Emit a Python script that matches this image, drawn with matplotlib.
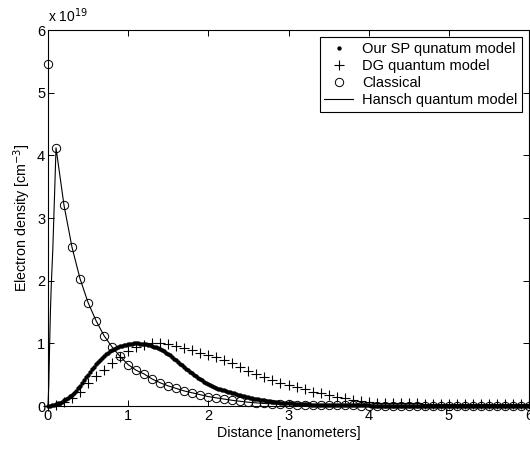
import numpy as np
import matplotlib
matplotlib.use("Agg")
import matplotlib.pyplot as plt

plt.rcParams['font.family'] = ['Liberation Sans', 'DejaVu Sans']

SCALE_EXP = 19  # values below are in units of 1e19 cm^-3

# Our SP quantum model (dots), x step 0.025 nm
sp_x = np.round(np.arange(0, 6.0001, 0.025), 3)
sp_y = [
    0.000, 0.005, 0.012, 0.020, 0.030, 0.042, 0.055, 0.071, 0.090, 0.110,
    0.132, 0.155, 0.180, 0.212, 0.245, 0.282, 0.320, 0.365, 0.410, 0.455,
    0.500, 0.543, 0.587, 0.630, 0.670, 0.705, 0.738, 0.770, 0.800, 0.825,
    0.848, 0.870, 0.890, 0.906, 0.922, 0.936, 0.950, 0.961, 0.972, 0.981,
    0.988, 0.993, 0.997, 0.999, 1.000, 0.999, 0.997, 0.994, 0.990, 0.984,
    0.977, 0.969, 0.960, 0.949, 0.937, 0.924, 0.910, 0.892, 0.872, 0.851,
    0.830, 0.806, 0.781, 0.756, 0.730, 0.703, 0.675, 0.648, 0.620, 0.595,
    0.570, 0.545, 0.520, 0.497, 0.474, 0.452, 0.430, 0.410, 0.390, 0.370,
    0.350, 0.334, 0.318, 0.303, 0.290, 0.279, 0.269, 0.259, 0.250, 0.239,
    0.229, 0.219, 0.210, 0.200, 0.190, 0.180, 0.170, 0.162, 0.155, 0.147,
    0.140, 0.132, 0.125, 0.117, 0.110, 0.105, 0.100, 0.095, 0.090, 0.085,
    0.080, 0.075, 0.070, 0.066, 0.062, 0.058, 0.055, 0.052, 0.049, 0.047,
    0.045, 0.042, 0.040, 0.037, 0.035, 0.033, 0.031, 0.030, 0.028, 0.026,
    0.025, 0.023, 0.022, 0.021, 0.020, 0.019, 0.018, 0.017, 0.016, 0.015,
    0.014,
    0.014, 0.013, 0.013, 0.012, 0.012, 0.011, 0.011, 0.011, 0.010, 0.010,
    0.010, 0.009, 0.009, 0.009, 0.009, 0.008, 0.008, 0.008, 0.008, 0.008,
    0.007, 0.007, 0.007, 0.007, 0.007, 0.007, 0.007, 0.007, 0.007, 0.007,
    0.007, 0.007, 0.007, 0.006, 0.006, 0.006, 0.006, 0.006, 0.006, 0.006,
    0.006, 0.006, 0.006, 0.006, 0.006, 0.006, 0.006, 0.006, 0.006, 0.006,
    0.006, 0.006, 0.005, 0.005, 0.005, 0.005, 0.005, 0.005, 0.005, 0.005,
    0.005, 0.005, 0.005, 0.005, 0.005, 0.005, 0.005, 0.005, 0.005, 0.005,
    0.005, 0.005, 0.005, 0.004, 0.004, 0.004, 0.004, 0.004, 0.004, 0.004,
    0.004, 0.004, 0.004, 0.004, 0.004, 0.004, 0.004, 0.004, 0.004, 0.004,
    0.004, 0.004, 0.004, 0.004, 0.004, 0.004, 0.004, 0.004, 0.004, 0.004,
]

# DG quantum model (+), x step 0.1 nm
dg_x = np.round(np.arange(0, 6.0001, 0.1), 2)
dg_y = [
    0.00, 0.02, 0.07, 0.13, 0.22, 0.37, 0.48, 0.58, 0.69, 0.78,
    0.87, 0.94, 0.98, 1.00, 1.00, 0.99, 0.96, 0.93, 0.89, 0.85,
    0.81, 0.78, 0.73, 0.68, 0.62, 0.56, 0.51, 0.46, 0.41, 0.37,
    0.33, 0.30, 0.27, 0.23, 0.20, 0.17, 0.15, 0.12, 0.10, 0.08,
    0.07, 0.055, 0.05, 0.045, 0.04, 0.04, 0.04, 0.038, 0.037, 0.036,
    0.035, 0.035, 0.034, 0.033, 0.033, 0.032, 0.032, 0.031, 0.031, 0.030,
    0.030,
]

# Classical (o), x step 0.1 nm
cl_x = np.round(np.arange(0, 6.0001, 0.1), 2)
cl_y = [
    5.45, 4.12, 3.20, 2.53, 2.03, 1.65, 1.36, 1.12, 0.94, 0.79,
    0.66, 0.57, 0.51, 0.43, 0.37, 0.32, 0.28, 0.24, 0.21, 0.18,
    0.15, 0.13, 0.11, 0.09, 0.075, 0.06, 0.05, 0.04, 0.035, 0.03,
    0.025, 0.02, 0.017, 0.015, 0.013, 0.011, 0.010, 0.009, 0.008, 0.007,
    0.006, 0.005, 0.005, 0.004, 0.004, 0.004, 0.003, 0.003, 0.003, 0.003,
    0.002, 0.002, 0.002, 0.002, 0.002, 0.002, 0.001, 0.001, 0.001, 0.001,
    0.001,
]

# Hansch quantum model (line): steep rise near the wall, then the classical curve
hansch_x_head = [0.0, 0.01, 0.02, 0.03, 0.04, 0.05, 0.06, 0.07, 0.08, 0.09]
hansch_y_head = [0.0, 0.35, 0.95, 1.50, 1.90, 2.20, 2.50, 2.90, 3.30, 3.70]
hansch_x = list(hansch_x_head) + list(cl_x[1:])
hansch_y = list(hansch_y_head) + list(cl_y[1:])

xticks = [0, 1, 2, 3, 4, 5, 6]
yticks = [0, 1, 2, 3, 4, 5, 6]
labels = ["Our SP qunatum model", "DG quantum model", "Classical", "Hansch quantum model"]

fig = plt.figure(figsize=(5.30, 4.51), dpi=100)
ax = fig.add_axes([48/530, 1-406/451, 481/530, 376/451])

ax.plot(sp_x, sp_y, linestyle='none', marker='.', markersize=4.3, color='black',
        label=labels[0], clip_on=False, zorder=3)
ax.plot(dg_x, dg_y, linestyle='none', marker='+', markersize=7, markeredgewidth=0.8,
        color='black', label=labels[1], clip_on=False, zorder=3)
ax.plot(cl_x, cl_y, linestyle='none', marker='o', markersize=6, markerfacecolor='none',
        markeredgecolor='black', markeredgewidth=0.7, label=labels[2], clip_on=False, zorder=4)
ax.plot(hansch_x, hansch_y, linestyle='-', linewidth=0.8, color='black',
        label=labels[3], clip_on=False, zorder=5)

ax.set_xlim(0, 6)
ax.set_ylim(0, 6)
ax.set_xticks(xticks)
ax.set_yticks(yticks)
ax.tick_params(direction='in', length=4, width=0.7, top=True, right=True,
               labelsize=10.5, pad=2)
for s in ax.spines.values():
    s.set_linewidth(0.8)

ax.set_xlabel("Distance [nanometers]", fontsize=10.3, labelpad=2)
ax.set_ylabel("Electron density [cm$^{-3}$]", fontsize=10.3, labelpad=3)
ax.text(0.0, 1.012, "x 10$^{%d}$" % SCALE_EXP, transform=ax.transAxes,
        fontsize=10, ha='left', va='bottom')

leg = ax.legend(loc='upper right', fontsize=10.5, frameon=True, fancybox=False,
                edgecolor='black', framealpha=1, borderpad=0.3, labelspacing=0.22,
                handlelength=2.0, handletextpad=0.6, borderaxespad=0.5)
leg.get_frame().set_linewidth(0.8)

fig.savefig("out.png", dpi=100)
